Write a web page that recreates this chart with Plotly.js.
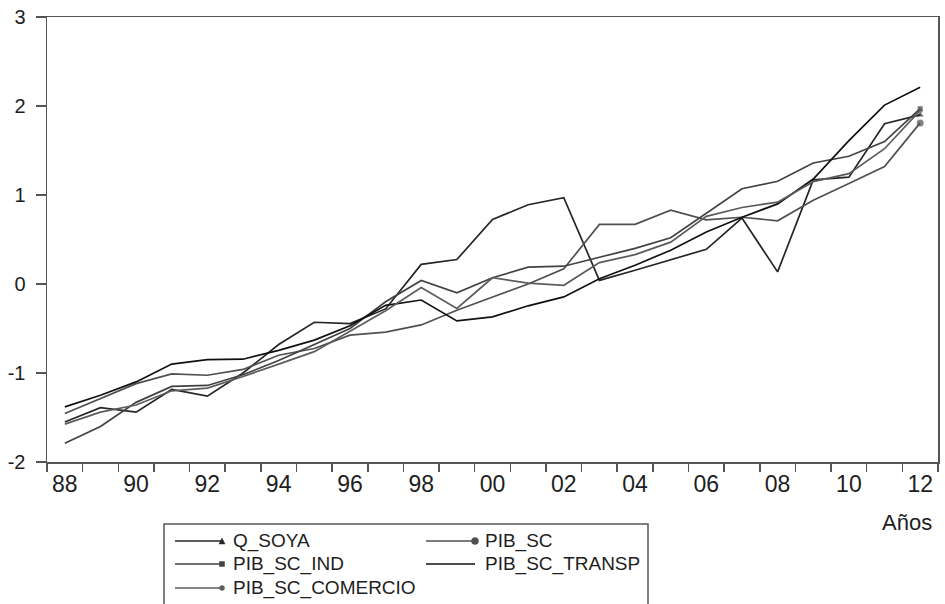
<!DOCTYPE html>
<html>
<head>
<meta charset="utf-8">
<script src="https://cdn.plot.ly/plotly-3.0.1.min.js"></script>
<style>html,body{margin:0;padding:0;background:#fff;}#chart{width:945px;height:604px;}</style>
</head>
<body>
<div id="chart"></div>
<script>
// ---- data ----
const years = [1988,1989,1990,1991,1992,1993,1994,1995,1996,1997,1998,1999,2000,2001,2002,2003,2004,2005,2006,2007,2008,2009,2010,2011,2012];
const Q_SOYA = [-1.55,-1.39,-1.44,-1.185,-1.26,-1.00,-0.68,-0.43,-0.445,-0.28,0.22,0.275,0.725,0.89,0.97,0.04,0.155,0.27,0.39,0.74,0.136,1.17,1.20,1.80,1.90];
const PIB_SC = [-1.455,-1.29,-1.12,-1.01,-1.025,-0.96,-0.80,-0.725,-0.575,-0.54,-0.46,-0.295,-0.145,0.0,0.17,0.67,0.67,0.83,0.72,0.75,0.71,0.94,1.13,1.32,1.81];
const PIB_SC_IND = [-1.79,-1.60,-1.33,-1.15,-1.14,-1.02,-0.86,-0.68,-0.50,-0.20,0.04,-0.10,0.07,0.19,0.20,0.30,0.40,0.52,0.80,1.07,1.155,1.36,1.435,1.60,1.97];
const PIB_SC_TRANSP = [-1.38,-1.25,-1.10,-0.90,-0.85,-0.845,-0.745,-0.63,-0.47,-0.24,-0.18,-0.415,-0.37,-0.245,-0.145,0.06,0.21,0.38,0.585,0.75,0.90,1.18,1.61,2.01,2.21];
const PIB_SC_COMERCIO = [-1.575,-1.44,-1.36,-1.20,-1.17,-1.04,-0.90,-0.76,-0.53,-0.30,-0.04,-0.275,0.07,0.01,-0.015,0.24,0.33,0.47,0.76,0.86,0.92,1.15,1.24,1.52,1.95];
const xTickVals = [1988,1990,1992,1994,1996,1998,2000,2002,2004,2006,2008,2010,2012];
const xTickText = ["88","90","92","94","96","98","00","02","04","06","08","10","12"];
const yTickVals = [-2,-1,0,1,2,3];
const yTickText = ["-2","-1","0","1","2","3"];
const seriesNames = ["Q_SOYA","PIB_SC","PIB_SC_IND","PIB_SC_TRANSP","PIB_SC_COMERCIO"];
const seriesData = [Q_SOYA, PIB_SC, PIB_SC_IND, PIB_SC_TRANSP, PIB_SC_COMERCIO];

// ---- styles ----
const styles = [
  {color:"#262626", symbol:"triangle-up", size:6},
  {color:"#505050", symbol:"circle", size:7},
  {color:"#424242", symbol:"square", size:5},
  {color:"#111111", symbol:null, size:0},
  {color:"#5c5c5c", symbol:"circle", size:5}
];

const W = 945, H = 604;
const fx = p => p / W;
const fy = p => 1 - p / H;
const FONT = "Liberation Sans, Arial, sans-serif";

const traces = seriesData.map((vals, k) => {
  const st = styles[k];
  const n = years.length;
  const t = {
    type: "scatter",
    mode: st.symbol ? "lines+markers" : "lines",
    name: seriesNames[k],
    x: years,
    y: vals,
    line: {color: st.color, width: 1.7},
    showlegend: false,
    hoverinfo: "skip"
  };
  if (st.symbol) {
    t.marker = {
      symbol: st.symbol,
      color: st.color,
      size: years.map((_, i) => i === n - 1 ? st.size : 0),
      line: {width: 0}
    };
  }
  return t;
});

// ---- hand-drawn legend (line sample with end marker, as in the reference) ----
const shapes = [];
const annotations = [];
shapes.push({type:"rect", xref:"paper", yref:"paper",
  x0: fx(164), x1: fx(648), y0: fy(524), y1: fy(650),
  line:{color:"#555", width:1.5}, fillcolor:"rgba(0,0,0,0)"});
const legendPos = [
  {x1:175, x2:222, y:541, tx:231},
  {x1:426, x2:475, y:541, tx:483},
  {x1:175, x2:222, y:564, tx:231},
  {x1:426, x2:475, y:564, tx:483},
  {x1:175, x2:222, y:588, tx:231}
];
[0,1,2,3,4].forEach((k, j) => {
  const p = legendPos[j];
  const st = styles[k];
  shapes.push({type:"line", xref:"paper", yref:"paper",
    x0: fx(p.x1), x1: fx(p.x2), y0: fy(p.y), y1: fy(p.y),
    line:{color: st.color, width:1.7}});
  const r = st.size / 2;
  if (st.symbol === "circle") {
    shapes.push({type:"circle", xref:"paper", yref:"paper",
      x0: fx(p.x2 - r), x1: fx(p.x2 + r), y0: fy(p.y + r), y1: fy(p.y - r),
      fillcolor: st.color, line:{color: st.color, width:0.5}});
  } else if (st.symbol === "square") {
    shapes.push({type:"rect", xref:"paper", yref:"paper",
      x0: fx(p.x2 - r), x1: fx(p.x2 + r), y0: fy(p.y + r), y1: fy(p.y - r),
      fillcolor: st.color, line:{color: st.color, width:0.5}});
  } else if (st.symbol === "triangle-up") {
    shapes.push({type:"path", xref:"paper", yref:"paper",
      path: "M " + fx(p.x2 - r) + " " + fy(p.y + r) + " L " + fx(p.x2 + r) + " " + fy(p.y + r) + " L " + fx(p.x2) + " " + fy(p.y - r) + " Z",
      fillcolor: st.color, line:{color: st.color, width:0.5}});
  }
  annotations.push({xref:"paper", yref:"paper", x: fx(p.tx), y: fy(p.y),
    xanchor:"left", yanchor:"middle", showarrow:false, text: seriesNames[k],
    font:{family: FONT, size:19, color:"#1e1e1e"}});
});
annotations.push({xref:"paper", yref:"paper", x: fx(907), y: fy(522),
  xanchor:"center", yanchor:"middle", showarrow:false, text:"Años",
  font:{family: FONT, size:22, color:"#1e1e1e"}});

const layout = {
  width: W, height: H,
  margin: {l:0, r:0, t:0, b:0},
  paper_bgcolor: "#fff", plot_bgcolor: "#fff",
  font: {family: FONT, color:"#1e1e1e"},
  xaxis: {
    domain: [47/W, 938/W],
    range: [1987.5, 2012.5],
    tickmode: "array", tickvals: xTickVals, ticktext: xTickText,
    ticks: "outside", ticklen: 1, tickcolor: "rgba(0,0,0,0)",
    minor: {tick0: 1987.5, dtick: 1, ticks: "outside", ticklen: 8, tickwidth: 1.5, tickcolor: "#555", showgrid: false},
    tickfont: {family: FONT, size: 23, color:"#1e1e1e"},
    showline: true, linecolor: "#555", linewidth: 1.5, mirror: true,
    showgrid: false, zeroline: false, fixedrange: true
  },
  yaxis: {
    domain: [1 - 462/H, 1 - 17/H],
    range: [-2, 3],
    tickmode: "array", tickvals: yTickVals, ticktext: yTickText,
    ticks: "outside", ticklen: 10, tickwidth: 1.5, tickcolor: "#555",
    ticklabelstandoff: 6,
    tickfont: {family: FONT, size: 20, color:"#1e1e1e"},
    showline: true, linecolor: "#555", linewidth: 1.5, mirror: true,
    showgrid: false, zeroline: false, fixedrange: true
  },
  shapes: shapes,
  annotations: annotations,
  showlegend: false
};

Plotly.newPlot("chart", traces, layout, {staticPlot: true, displayModeBar: false});
</script>
</body>
</html>
